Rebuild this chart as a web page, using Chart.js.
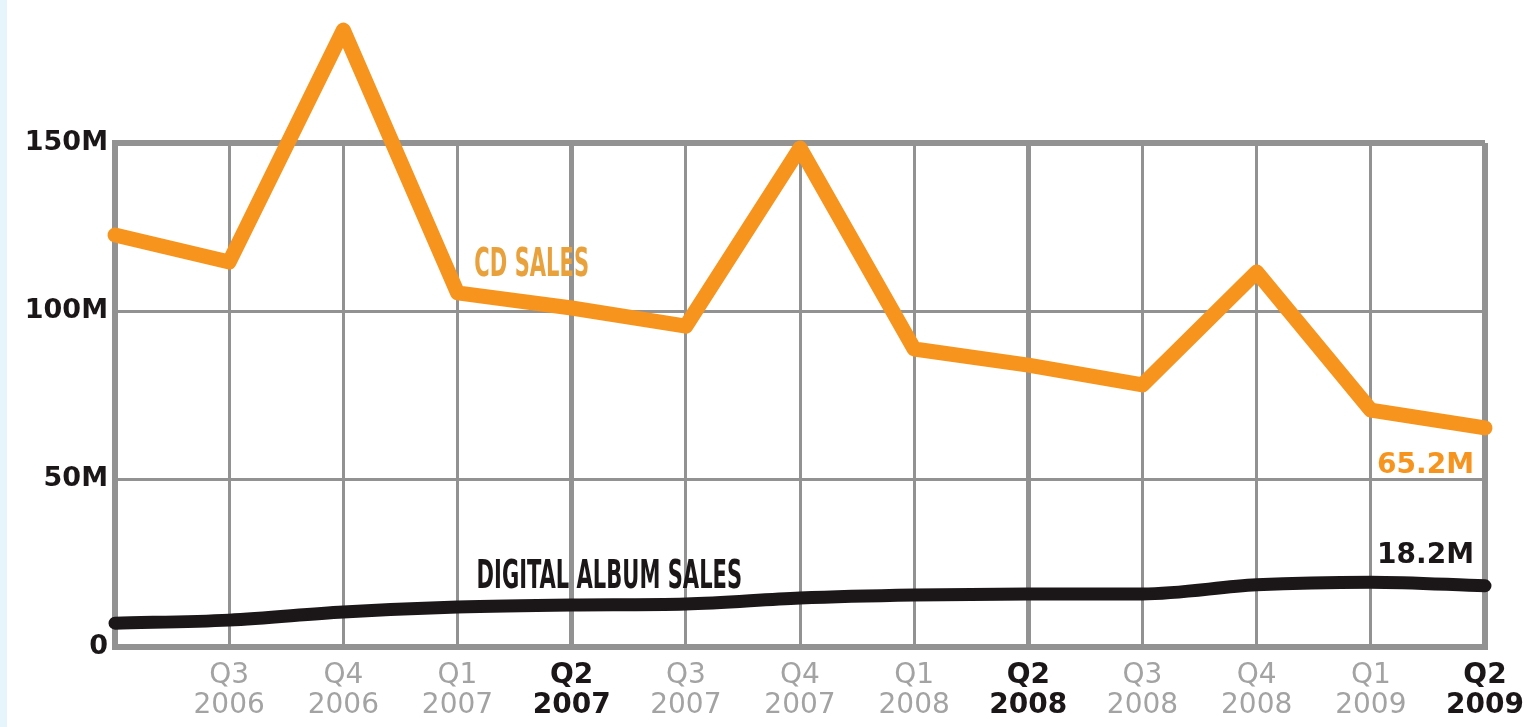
<!DOCTYPE html>
<html>
<head>
<meta charset="utf-8">
<script src="https://cdn.jsdelivr.net/npm/chart.js@4.4.0/dist/chart.umd.min.js"></script>
<style>
  html, body { margin: 0; padding: 0; background: #fff; }
  #wrap { position: relative; width: 1530px; height: 727px; }
  #edge { position: absolute; left: 0; top: 0; width: 7px; height: 727px; background: #e6f5fb; }
  #myChart { position: absolute; left: 0; top: 0; }
</style>
</head>
<body>
<div id="wrap">
  <div id="edge"></div>
  <canvas id="myChart" width="1530" height="727"></canvas>
</div>
<script>
// quarters, Q2 2006 .. Q2 2009 (first one has no label)
const quarters = [
  ["", ""],
  ["Q3", "2006"], ["Q4", "2006"], ["Q1", "2007"], ["Q2", "2007"],
  ["Q3", "2007"], ["Q4", "2007"], ["Q1", "2008"], ["Q2", "2008"],
  ["Q3", "2008"], ["Q4", "2008"], ["Q1", "2009"], ["Q2", "2009"]
];
// album sales in millions of units
const cdSales = [122.6, 114.6, 183.6, 105.4, 100.9, 95.5, 148.5, 88.7, 83.9, 78.0, 111.6, 70.5, 65.2];
const digitalSales = [7.1, 8.0, 10.4, 11.9, 12.5, 12.8, 14.6, 15.5, 15.8, 15.8, 18.5, 19.3, 18.2];
const yTicks = [0, 50, 100, 150];

const ORANGE = "#f7941d";
const INK = "#1b1718";
const GRID = "#929292";
const LABEL_GREY = "#a3a3a3";

const isQ2 = (i) => quarters[i] && quarters[i][0] === "Q2";

// series names and end values written onto the plot
const lineLabels = {
  id: "lineLabels",
  afterDatasetsDraw(chart) {
    const { ctx, scales: { x, y } } = chart;
    const last = cdSales.length - 1;
    ctx.save();

    // condensed series titles
    const condensed = (text, cx, cy, color) => {
      ctx.save();
      ctx.font = "bold 39px 'Liberation Sans Narrow', 'DejaVu Sans Condensed', sans-serif";
      ctx.fillStyle = color;
      ctx.textAlign = "center";
      ctx.textBaseline = "middle";
      ctx.translate(cx, cy);
      ctx.scale(0.6, 1);
      ctx.fillText(text, 0, 0);
      ctx.restore();
    };
    condensed("CD SALES", x.getPixelForValue(3.65), y.getPixelForValue(113.5), "#e9a23b");
    condensed("DIGITAL ALBUM SALES", x.getPixelForValue(4.33), y.getPixelForValue(20.6), INK);

    // end values
    ctx.font = "bold 28px 'DejaVu Sans', sans-serif";
    ctx.textAlign = "right";
    ctx.textBaseline = "alphabetic";
    const xr = x.getPixelForValue(last) - 11;
    ctx.fillStyle = ORANGE;
    ctx.fillText(cdSales[last].toFixed(1) + "M", xr, y.getPixelForValue(cdSales[last]) + 45);
    ctx.fillStyle = INK;
    ctx.fillText(digitalSales[last].toFixed(1) + "M", xr, y.getPixelForValue(digitalSales[last]) - 23);
    ctx.restore();
  }
};

const ctx = document.getElementById("myChart").getContext("2d");
const myChart = new Chart(ctx, {
  type: "line",
  data: {
    labels: quarters,
    datasets: [
      {
        label: "CD sales",
        data: cdSales,
        borderColor: ORANGE,
        borderWidth: 15,
        borderJoinStyle: "round",
        borderCapStyle: "round",
        pointRadius: 0,
        tension: 0,
        clip: false
      },
      {
        label: "Digital album sales",
        data: digitalSales,
        borderColor: INK,
        borderWidth: 13,
        borderJoinStyle: "round",
        borderCapStyle: "round",
        pointRadius: 0,
        cubicInterpolationMode: "monotone",
        tension: 0.3,
        clip: false
      }
    ]
  },
  options: {
    responsive: false,
    animation: false,
    layout: { padding: { top: 143, right: 45, left: 0, bottom: 0 } },
    plugins: { legend: { display: false }, tooltip: { enabled: false } },
    scales: {
      x: {
        offset: false,
        grid: {
          color: GRID,
          lineWidth: (c) => (c.index === 0 || c.index === quarters.length - 1) ? 6 : (isQ2(c.index) ? 5 : 3),
          drawTicks: false
        },
        border: { display: true, color: GRID, width: 6 },
        ticks: {
          autoSkip: false,
          maxRotation: 0,
          padding: 13,
          color: (c) => isQ2(c.index) ? INK : LABEL_GREY,
          font: (c) => ({
            family: "'DejaVu Sans', sans-serif",
            size: 28,
            weight: isQ2(c.index) ? "bold" : "normal",
            lineHeight: 1.1
          })
        },
        afterFit: (scale) => {
          scale.height = 80;
          // the last label may run into the right margin
          scale.paddingLeft = 0;
          scale.paddingRight = 0;
        }
      },
      y: {
        min: 0,
        max: 150,
        afterBuildTicks: (scale) => { scale.ticks = yTicks.map((v) => ({ value: v })); },
        grid: {
          color: GRID,
          lineWidth: (c) => (c.tick && (c.tick.value === 0 || c.tick.value === 150)) ? 6 : 3,
          drawTicks: false
        },
        border: { display: true, color: GRID, width: 6 },
        ticks: {
          padding: 7,
          color: INK,
          font: { family: "'DejaVu Sans', sans-serif", size: 27, weight: "bold" },
          callback: (v) => v === 0 ? "0" : v + "M"
        },
        afterFit: (scale) => { scale.width = 115; }
      }
    }
  },
  plugins: [lineLabels]
});
</script>
</body>
</html>
